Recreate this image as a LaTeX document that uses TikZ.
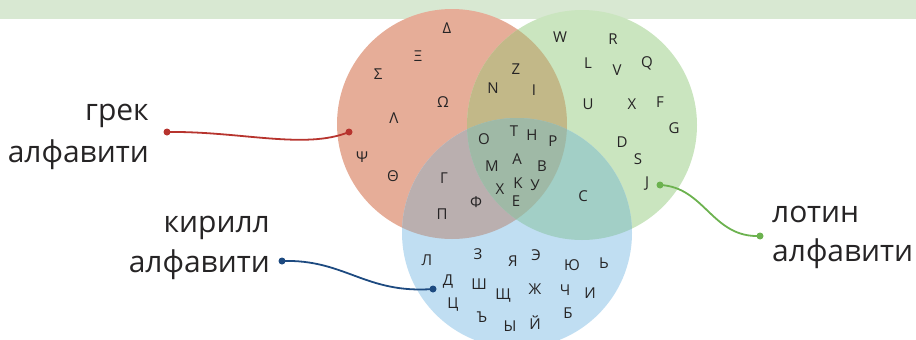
\documentclass[tikz,border=0pt]{standalone}
\usepackage{fontspec}
\setmainfont{Open Sans}
\definecolor{bandgreen}{RGB}{216,232,210}
\definecolor{redfill}{RGB}{230,173,152}
\definecolor{greenfill}{RGB}{202,229,191}
\definecolor{bluefill}{RGB}{192,222,242}
\definecolor{rgfill}{RGB}{194,184,136}
\definecolor{rbfill}{RGB}{186,175,175}
\definecolor{gbfill}{RGB}{162,207,198}
\definecolor{allfill}{RGB}{159,185,166}
\definecolor{redline}{RGB}{183,52,46}
\definecolor{blueline}{RGB}{29,74,128}
\definecolor{greenline}{RGB}{108,178,79}
\definecolor{textgrey}{RGB}{38,36,37}

\begin{document}
\begin{tikzpicture}[x=1pt,y=-1pt,
  ltr/.style={text=textgrey,font=\fontsize{15}{15}\selectfont,inner sep=0pt},
  lbl/.style={text=textgrey,font=\fontsize{30}{36}\selectfont,inner sep=0pt},
  dot/.style={circle,fill=#1,inner sep=0pt,minimum size=7pt},
  link/.style={draw=#1,line width=1.8pt}]
\useasboundingbox (0,0) rectangle (916,340);
\fill[bandgreen] (0,0) rectangle (916,19);
\coordinate (cgreek) at (452,124);
\coordinate (clatin) at (582,125);
\coordinate (ccyril) at (517,233);
\fill[redfill] (cgreek) circle (115);
\fill[greenfill] (clatin) circle (115);
\fill[bluefill] (ccyril) circle (115);
\begin{scope}
\clip (cgreek) circle (115);
\fill[rgfill] (clatin) circle (115);
\fill[rbfill] (ccyril) circle (115);
\end{scope}
\begin{scope}
\clip (clatin) circle (115);
\fill[gbfill] (ccyril) circle (115);
\end{scope}
\begin{scope}
\clip (cgreek) circle (115);
\clip (clatin) circle (115);
\fill[allfill] (ccyril) circle (115);
\end{scope}
\node[ltr] (delta) at (447,28) {Δ};
\node[ltr] (xi) at (418,56) {Ξ};
\node[ltr] (sigma) at (378,74) {Σ};
\node[ltr] (omega) at (443,102) {Ω};
\node[ltr] (lambda) at (394,118) {Λ};
\node[ltr] (psi) at (362,157) {Ψ};
\node[ltr] (theta) at (393,176) {Θ};
\node[ltr] (nn) at (493,88) {N};
\node[ltr] (zz) at (516,69) {Z};
\node[ltr] (ii) at (534,90) {I};
\node[ltr] (ww) at (560,37) {W};
\node[ltr] (rr) at (613,39) {R};
\node[ltr] (ll) at (588,63) {L};
\node[ltr] (vv) at (617,70) {V};
\node[ltr] (qq) at (647,63) {Q};
\node[ltr] (uu) at (588,104) {U};
\node[ltr] (xx) at (632,104) {X};
\node[ltr] (ff) at (660,102) {F};
\node[ltr] (gg) at (674,128) {G};
\node[ltr] (dd) at (622,142) {D};
\node[ltr] (ss) at (638,159) {S};
\node[ltr] (jj) at (647,184) {J};
\node[ltr] (oo) at (484,139) {O};
\node[ltr] (tt) at (514,131) {T};
\node[ltr] (hh) at (532,135) {H};
\node[ltr] (pp) at (553,141) {P};
\node[ltr] (mm) at (492,166) {M};
\node[ltr] (aa) at (517,159) {A};
\node[ltr] (bb) at (542,166) {B};
\node[ltr] (xc) at (500,189) {X};
\node[ltr] (kk) at (518,183) {K};
\node[ltr] (yy) at (535,185) {У};
\node[ltr] (ee) at (516,201) {E};
\node[ltr] (gamma) at (444,178) {Γ};
\node[ltr] (phi) at (476,202) {Φ};
\node[ltr] (pi) at (442,214) {Π};
\node[ltr] (cc) at (583,196) {C};
\node[ltr] (el) at (427,260) {Л};
\node[ltr] (ze) at (478,254) {З};
\node[ltr] (ya) at (513,261) {Я};
\node[ltr] (eh) at (536,255) {Э};
\node[ltr] (yu) at (572,265) {Ю};
\node[ltr] (soft) at (604,263) {Ь};
\node[ltr] (de) at (448,282) {Д};
\node[ltr] (sha) at (479,284) {Ш};
\node[ltr] (shcha) at (503,296) {Щ};
\node[ltr] (zhe) at (535,289) {Ж};
\node[ltr] (che) at (565,290) {Ч};
\node[ltr] (iy) at (590,293) {И};
\node[ltr] (tse) at (453,305) {Ц};
\node[ltr] (hard) at (482,317) {Ъ};
\node[ltr] (yery) at (510,326) {Ы};
\node[ltr] (ishort) at (535,323) {Й};
\node[ltr] (be) at (568,313) {Б};
\node[lbl,anchor=base east] (greekA) at (149,120) {грек};
\node[lbl,anchor=base east] (greekB) at (149,162) {алфавити};
\node[lbl,anchor=base east] (cyrilA) at (270,232) {кирилл};
\node[lbl,anchor=base east] (cyrilB) at (270,272) {алфавити};
\node[lbl,anchor=base west] (latinA) at (772,222) {лотин};
\node[lbl,anchor=base west] (latinB) at (772,261) {алфавити};
\node[dot=redline] (gdotA) at (167,132) {};
\node[dot=redline] (gdotB) at (349,132) {};
\node[dot=blueline] (cdotA) at (282,261) {};
\node[dot=blueline] (cdotB) at (433,289) {};
\node[dot=greenline] (ldotA) at (660,185) {};
\node[dot=greenline] (ldotB) at (760,236) {};
\draw[link=redline] (gdotA.center) .. controls (240,131) and (305,150) .. (gdotB.center);
\draw[link=blueline] (cdotA.center) .. controls (345,259) and (365,294) .. (cdotB.center);
\draw[link=greenline] (ldotA.center) .. controls (705,187) and (712,238) .. (ldotB.center);
\end{tikzpicture}
\end{document}
